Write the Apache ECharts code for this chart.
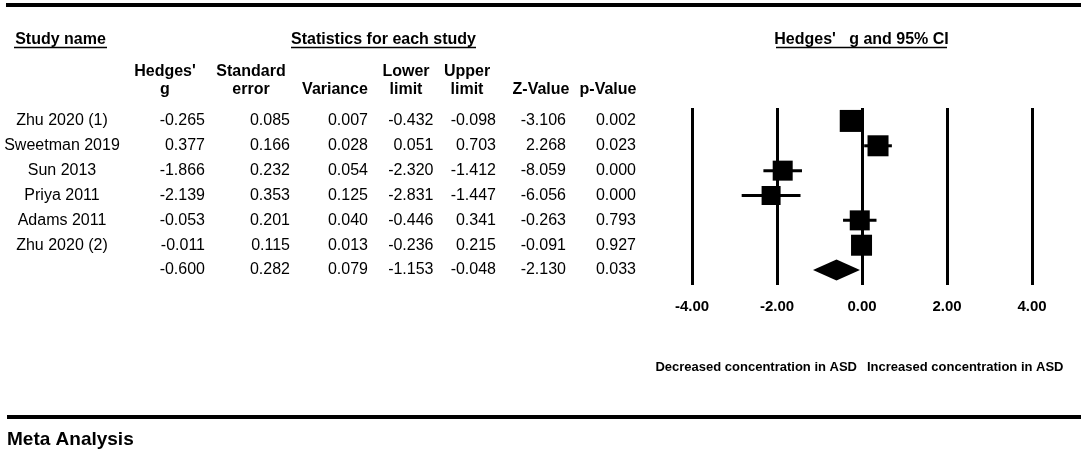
<!DOCTYPE html>
<html>
<head>
<meta charset="utf-8">
<script src="https://cdn.jsdelivr.net/npm/echarts@6/dist/echarts.min.js"></script>
<style>
html,body{margin:0;padding:0;background:#fff;}
#chart{width:1084px;height:454px;}
</style>
</head>
<body>
<div id="chart"></div>
<script>
// ---------- data ----------
const studies = ['Zhu 2020 (1)', 'Sweetman 2019', 'Sun 2013', 'Priya 2011', 'Adams 2011', 'Zhu 2020 (2)'];
const hedgesG = [-0.265, 0.377, -1.866, -2.139, -0.053, -0.011];
const stdError = [0.085, 0.166, 0.232, 0.353, 0.201, 0.115];
const variance = [0.007, 0.028, 0.054, 0.125, 0.040, 0.013];
const lowerLimit = [-0.432, 0.051, -2.320, -2.831, -0.446, -0.236];
const upperLimit = [-0.098, 0.703, -1.412, -1.447, 0.341, 0.215];
const zValue = [-3.106, 2.268, -8.059, -6.056, -0.263, -0.091];
const pValue = [0.002, 0.023, 0.000, 0.000, 0.793, 0.927];
// summary (random-effects) row: g, SE, variance, lower, upper, Z, p
const summaryStats = [-0.600, 0.282, 0.079, -1.153, -0.048, -2.130, 0.033];
const xTicks = [-4, -2, 0, 2, 4];
const columnHeaders = [["Hedges'", 'g'], ['Standard', 'error'], ['', 'Variance'], ['Lower', 'limit'], ['Upper', 'limit'], ['', 'Z-Value'], ['', 'p-Value']];
const sectionHeaders = ['Study name', 'Statistics for each study', "Hedges'   g and 95% CI"];
const directionLabels = ['Decreased concentration in ASD', 'Increased concentration in ASD'];
const footerTitle = 'Meta Analysis';

// ---------- styles (not data) ----------
const FONT = '"Liberation Sans", Arial, sans-serif';
const squareSizes = [22, 21, 20, 19, 20, 21];
const diamondHalfH = 10.5;
const colRight = [205, 290, 368, 433.5, 496, 566, 636];
const headerCenter = [165, 251, 335, 406, 467, 541, 608];
const nameCenter = 62;

const chart = echarts.init(document.getElementById('chart'), null, {renderer: 'canvas'});

const studyData = studies.map((s, i) => [i, hedgesG[i], lowerLimit[i], upperLimit[i]]);
const summaryData = [[studies.length, summaryStats[0], summaryStats[3], summaryStats[4]]];

chart.setOption({
  backgroundColor: '#ffffff',
  animation: false,
  grid: {left: 692, right: 52, top: 108, height: 177},
  xAxis: {
    type: 'value', min: xTicks[0], max: xTicks[xTicks.length - 1], interval: xTicks[1] - xTicks[0],
    axisLine: {show: false}, axisTick: {show: false},
    splitLine: {show: true, showMinLine: true, showMaxLine: true, lineStyle: {color: '#000', width: 3}},
    axisLabel: {formatter: v => v.toFixed(2), fontWeight: 'bold', fontSize: 15, color: '#000', fontFamily: FONT, margin: 14}
  },
  yAxis: {type: 'value', inverse: true, min: -0.52, max: 6.6, show: false},
  series: [
    {
      type: 'custom',
      data: studyData,
      encode: {x: [1, 2, 3], y: 0},
      renderItem: function (params, api) {
        const row = api.value(0), g = api.value(1), lo = api.value(2), hi = api.value(3);
        const p = api.coord([g, row]);
        const pl = api.coord([lo, row]);
        const ph = api.coord([hi, row]);
        const s = squareSizes[params.dataIndex];
        return {
          type: 'group',
          children: [
            {type: 'line', shape: {x1: pl[0], y1: p[1], x2: ph[0], y2: p[1]}, style: {stroke: '#000', lineWidth: 3}},
            {type: 'rect', shape: {x: p[0] - s / 2, y: p[1] - s / 2, width: s, height: s}, style: {fill: '#000'}}
          ]
        };
      }
    },
    {
      type: 'custom',
      data: summaryData,
      encode: {x: [1, 2, 3], y: 0},
      renderItem: function (params, api) {
        const row = api.value(0), g = api.value(1), lo = api.value(2), hi = api.value(3);
        const p = api.coord([g, row]);
        const pl = api.coord([lo, row]);
        const ph = api.coord([hi, row]);
        return {
          type: 'polygon',
          shape: {points: [[pl[0], p[1]], [p[0], p[1] - diamondHalfH], [ph[0], p[1]], [p[0], p[1] + diamondHalfH]]},
          style: {fill: '#000'}
        };
      }
    }
  ]
});

function txt(text, x, y, size, bold, align) {
  return {
    type: 'text', silent: true,
    style: {
      text: text, x: x, y: y,
      font: (bold ? 'bold ' : '') + size + 'px ' + FONT,
      fill: '#000',
      align: align, textAlign: align,
      verticalAlign: 'middle', textVerticalAlign: 'middle'
    }
  };
}
function hline(x1, x2, y, w) {
  return {type: 'line', silent: true, shape: {x1: x1, y1: y, x2: x2, y2: y}, style: {stroke: '#000', lineWidth: w}};
}

const els = [];
// frame lines
els.push(hline(6, 1081, 5, 4));
els.push(hline(7, 1081, 417, 4));
// section headers with underline
els.push(txt(sectionHeaders[0], 60.5, 39.5, 16, true, 'center'));
els.push(hline(14, 107, 47.5, 1.5));
els.push(txt(sectionHeaders[1], 383.5, 39.5, 16, true, 'center'));
els.push(hline(291, 476, 47.5, 1.5));
els.push(txt(sectionHeaders[2], 861.5, 39.5, 16, true, 'center'));
els.push(hline(776, 947, 47.5, 1.5));
// column headers
columnHeaders.forEach((h, c) => {
  if (h[0]) els.push(txt(h[0], headerCenter[c], 72, 16, true, 'center'));
  els.push(txt(h[1], headerCenter[c], 90, 16, true, 'center'));
});
// rows
const cols = [hedgesG, stdError, variance, lowerLimit, upperLimit, zValue, pValue];
studies.forEach((name, i) => {
  const y = chart.convertToPixel({yAxisIndex: 0}, i);
  els.push(txt(name, nameCenter, y, 16, false, 'center'));
  cols.forEach((arr, c) => els.push(txt(arr[i].toFixed(3), colRight[c], y, 16, false, 'right')));
});
const ys = chart.convertToPixel({yAxisIndex: 0}, studies.length);
summaryStats.forEach((v, c) => els.push(txt(v.toFixed(3), colRight[c], ys, 16, false, 'right')));
// direction labels
els.push(txt(directionLabels[0], 857, 367.5, 13, true, 'right'));
els.push(txt(directionLabels[1], 867, 367.5, 13, true, 'left'));
// footer
els.push(txt(footerTitle, 7, 440, 19, true, 'left'));

chart.setOption({graphic: {elements: els}});
</script>
</body>
</html>
